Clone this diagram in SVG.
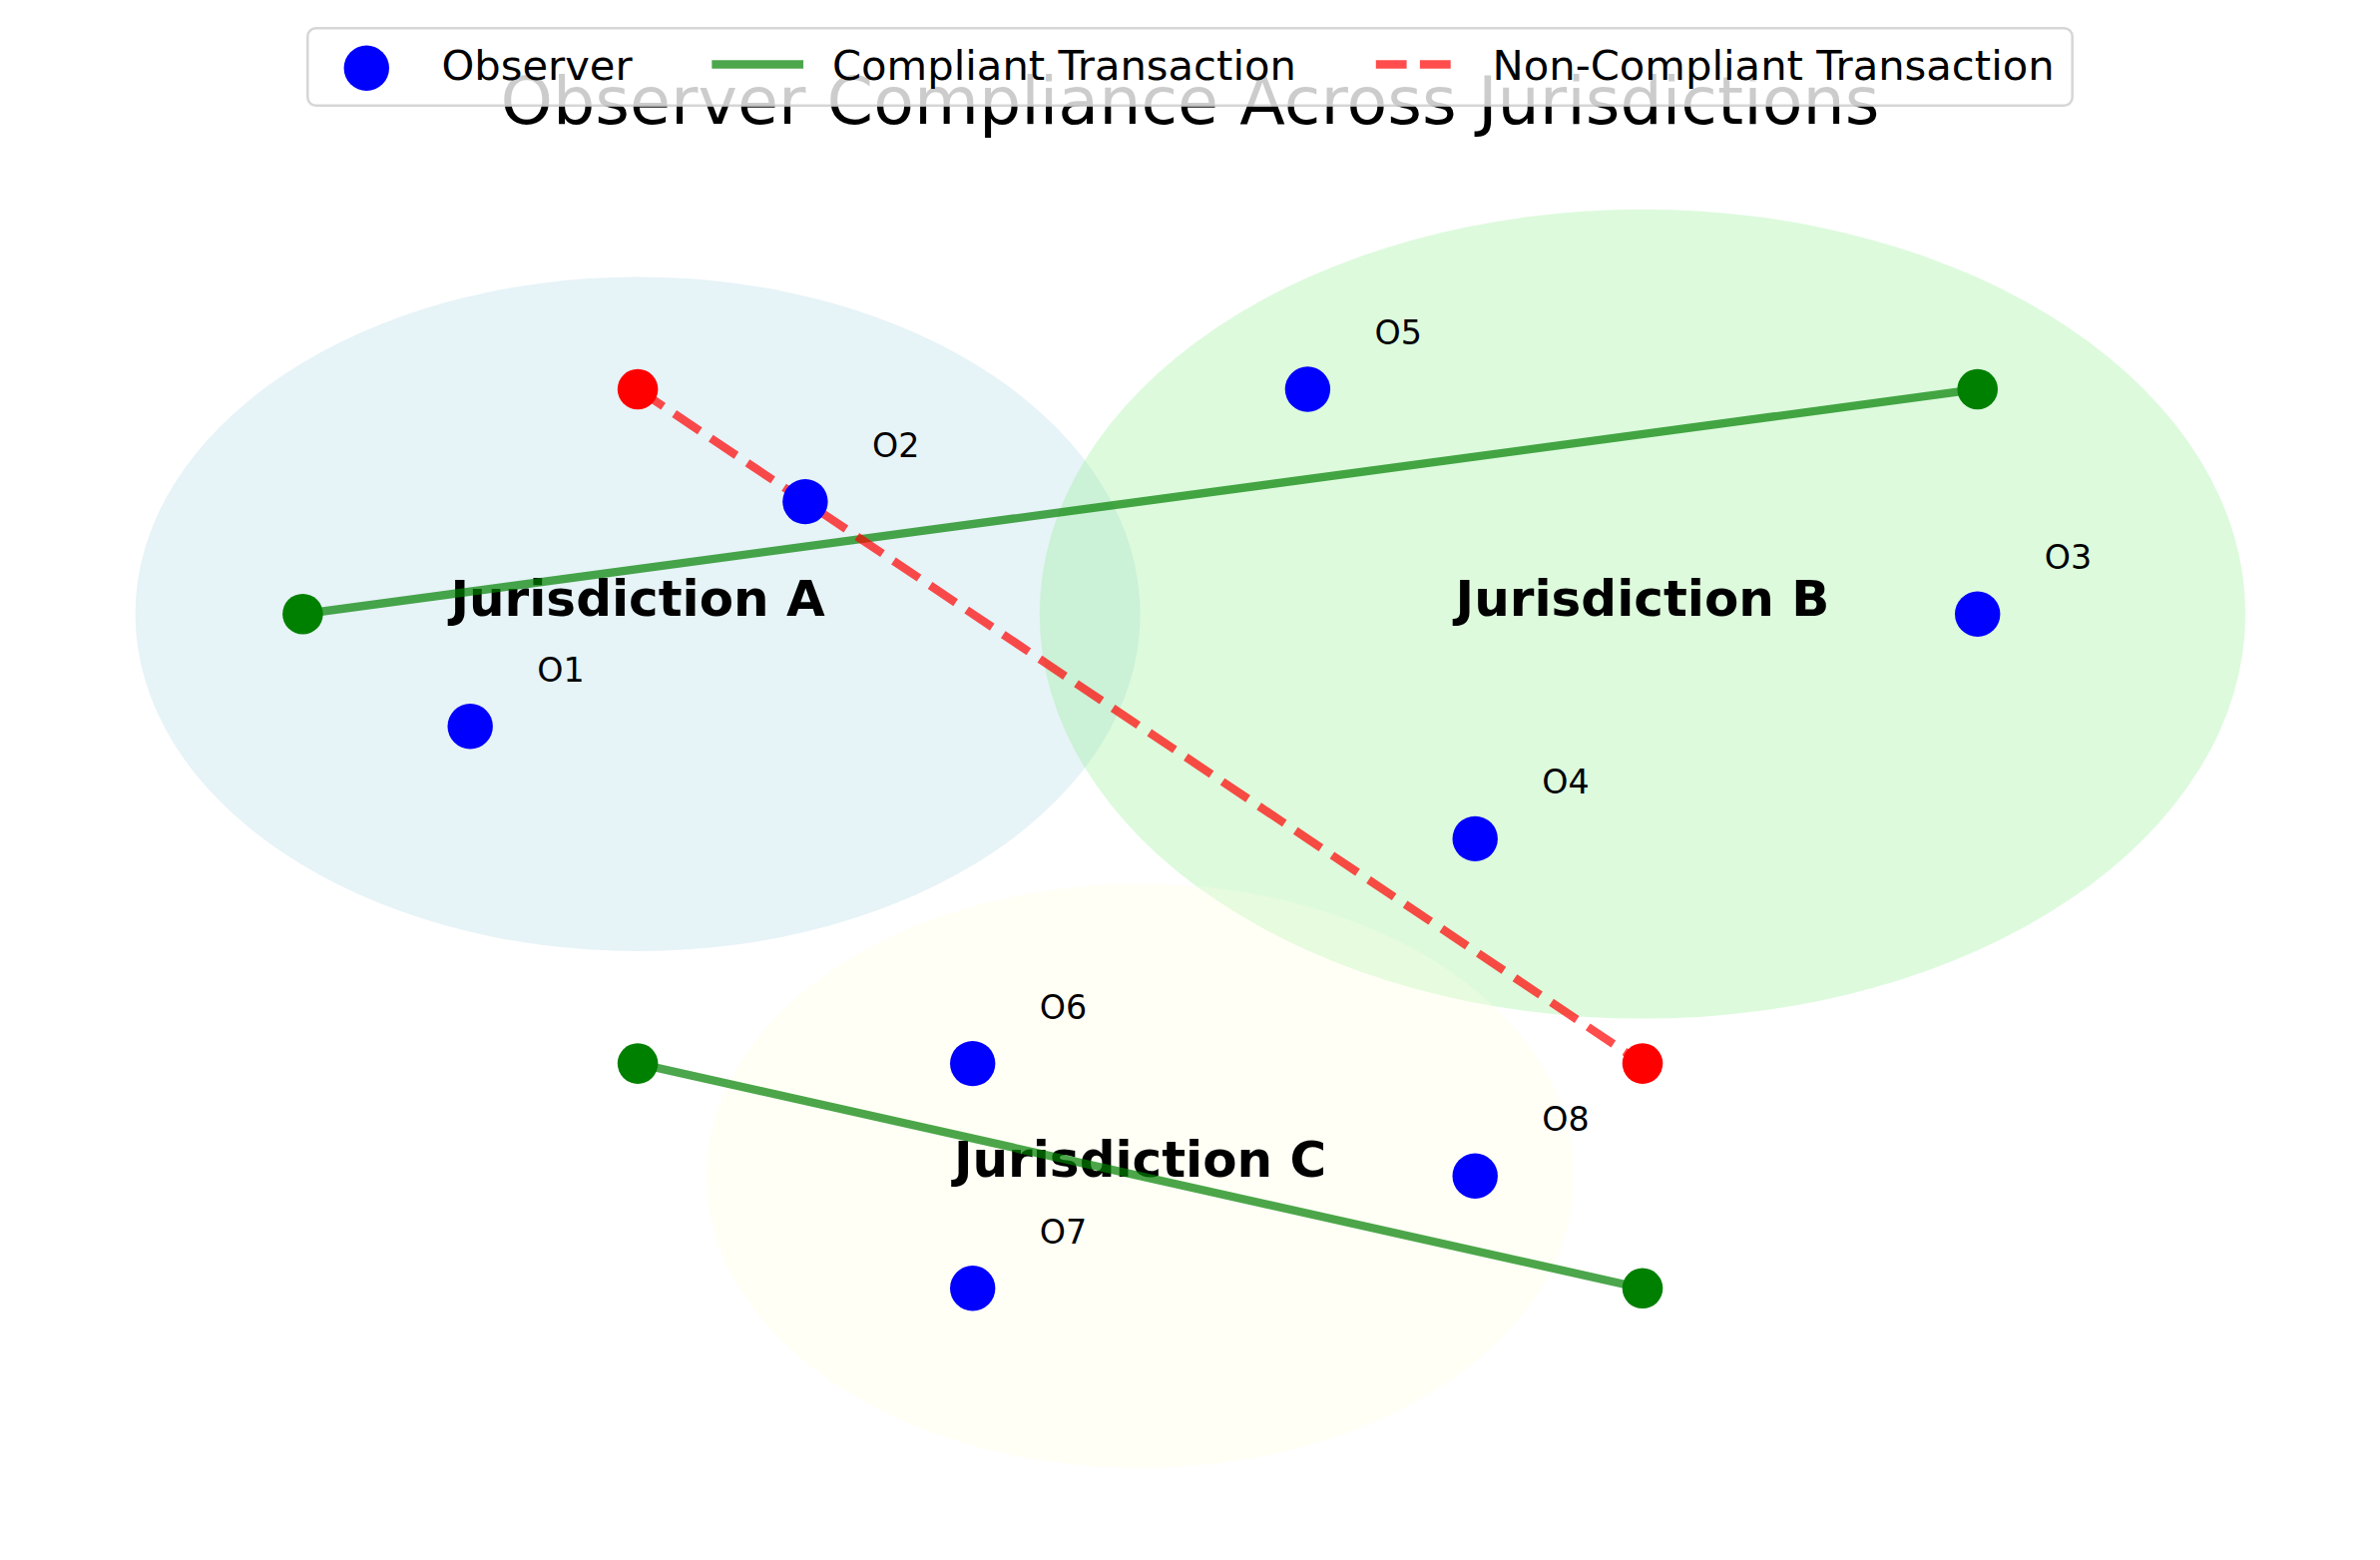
<svg xmlns="http://www.w3.org/2000/svg" width="2385" height="1563" viewBox="0 0 2385 1563">
<style>
text{font-family:"DejaVu Sans","Liberation Sans",sans-serif;fill:#000}
.jur{font-size:50px;font-weight:bold;text-anchor:middle}
.lbl{font-size:33.3px}
.leg{font-size:41.7px}
.title{font-size:66.7px;text-anchor:middle}
.obs{fill:#0000ff}
.endg{fill:#008000}
.endr{fill:#ff0000}
.ok{stroke:#008000;stroke-opacity:0.7;stroke-width:8.33;fill:none;stroke-linecap:square}
.bad{stroke:#ff0000;stroke-opacity:0.7;stroke-width:8.33;fill:none;stroke-dasharray:30.8 13.3;stroke-linecap:butt}
</style>
<rect width="2385" height="1563" fill="#ffffff"/>
<g id="jurisdiction-A">
<ellipse cx="639.1" cy="615.2" rx="503.5" ry="337.8" fill="#add8e6" fill-opacity="0.3"/>
</g>
<g id="jurisdiction-B">
<ellipse cx="1646" cy="615.2" rx="604.2" ry="405.4" fill="#90ee90" fill-opacity="0.3"/>
</g>
<g id="jurisdiction-C">
<ellipse cx="1142.6" cy="1178.2" rx="435" ry="292.8" fill="#ffffe0" fill-opacity="0.3"/>
</g>
<g id="jurisdiction-labels">
<text class="jur" x="639.1" y="616.5">Jurisdiction A</text>
<text class="jur" x="1646" y="616.5">Jurisdiction B</text>
<text class="jur" x="1142.6" y="1179.2">Jurisdiction C</text>
</g>
<g id="connectors">
<line class="ok" x1="303.4" y1="615.2" x2="1981.7" y2="390"/>
<circle class="endg" cx="303.4" cy="615.2" r="20.3"/>
<circle class="endg" cx="1981.7" cy="390" r="20.3"/>
<line class="bad" x1="639.1" y1="390" x2="1646" y2="1065.6"/>
<circle class="endr" cx="639.1" cy="390" r="20.3"/>
<circle class="endr" cx="1646" cy="1065.6" r="20.3"/>
<line class="ok" x1="639.1" y1="1065.6" x2="1646" y2="1290.8"/>
<circle class="endg" cx="639.1" cy="1065.6" r="20.3"/>
<circle class="endg" cx="1646" cy="1290.8" r="20.3"/>
</g>
<g id="O1"><circle class="obs" cx="471.2" cy="727.8" r="22.7"/><text class="lbl" x="538.3" y="682.8">O1</text></g>
<g id="O2"><circle class="obs" cx="806.9" cy="502.6" r="22.7"/><text class="lbl" x="874" y="457.6">O2</text></g>
<g id="O3"><circle class="obs" cx="1981.7" cy="615.2" r="22.7"/><text class="lbl" x="2048.8" y="570.2">O3</text></g>
<g id="O4"><circle class="obs" cx="1478.2" cy="840.4" r="22.7"/><text class="lbl" x="1545.3" y="795.4">O4</text></g>
<g id="O5"><circle class="obs" cx="1310.4" cy="390" r="22.7"/><text class="lbl" x="1377.5" y="345">O5</text></g>
<g id="O6"><circle class="obs" cx="974.7" cy="1065.6" r="22.7"/><text class="lbl" x="1041.8" y="1020.6">O6</text></g>
<g id="O7"><circle class="obs" cx="974.7" cy="1290.8" r="22.7"/><text class="lbl" x="1041.8" y="1245.8">O7</text></g>
<g id="O8"><circle class="obs" cx="1478.2" cy="1178.2" r="22.7"/><text class="lbl" x="1545.3" y="1133.2">O8</text></g>
<g id="title">
<text class="title" x="1192.5" y="124.3">Observer Compliance Across Jurisdictions</text>
</g>
<g id="legend">
<rect x="308.3" y="28.3" width="1768.4" height="77.4" rx="8.3" ry="8.3" fill="#ffffff" fill-opacity="0.8" stroke="#cccccc" stroke-opacity="0.8" stroke-width="2.5"/>
<circle class="obs" cx="367.3" cy="68.2" r="22.7"/>
<text class="leg" x="442.4" y="80">Observer</text>
<line class="ok" stroke-opacity="1" x1="717.5" y1="64.5" x2="800.9" y2="64.5"/>
<text class="leg" x="834" y="80">Compliant Transaction</text>
<line class="bad" stroke-opacity="1" x1="1378.8" y1="64.5" x2="1462.2" y2="64.5"/>
<text class="leg" x="1495.6" y="80">Non-Compliant Transaction</text>
</g>
</svg>
